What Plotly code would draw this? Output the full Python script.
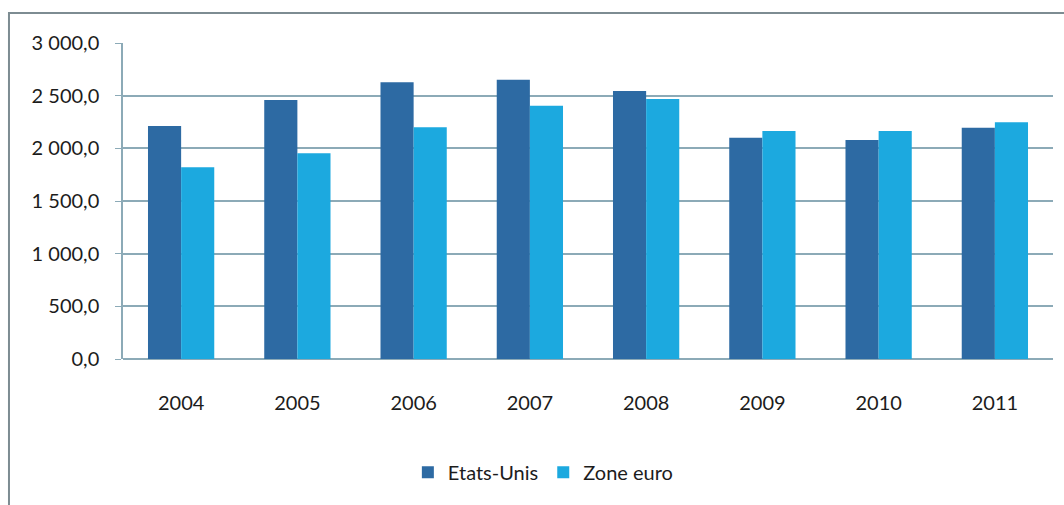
import plotly.graph_objects as go

years = ["2004", "2005", "2006", "2007", "2008", "2009", "2010", "2011"]
etats_unis = [2211, 2459, 2627, 2652, 2545, 2100, 2079, 2195]
zone_euro = [1820, 1953, 2199, 2405, 2469, 2164, 2164, 2248]
y_tickvals = [0, 500, 1000, 1500, 2000, 2500, 3000]
y_ticktext = ["0,0", "500,0", "1 000,0", "1 500,0", "2 000,0", "2 500,0", "3 000,0"]

FONT = "Lato, 'Open Sans', sans-serif"
TXT = "#1c1c1c"
GRID = "#8CAAB7"

fig = go.Figure()
fig.add_trace(go.Bar(name="Etats-Unis", x=years, y=etats_unis, marker_color="#2D6AA3",
                     marker_line_width=0))
fig.add_trace(go.Bar(name="Zone euro", x=years, y=zone_euro, marker_color="#1CA9DF",
                     marker_line_width=0))

fig.update_layout(
    width=1064, height=505,
    margin=dict(l=123, r=11, t=43, b=146, autoexpand=False),
    paper_bgcolor="white", plot_bgcolor="white",
    barmode="group", bargap=0.43, bargroupgap=0,
    font=dict(family=FONT, size=20, color=TXT),
    showlegend=True,
    legend=dict(orientation="h", x=0.452, xanchor="center", y=-0.358, yanchor="middle",
                font=dict(family=FONT, size=20, color=TXT),
                itemwidth=30, traceorder="normal"),
    xaxis=dict(showgrid=False, showline=False, ticks="", tickfont=dict(size=20),
               ticklabelstandoff=30),
    yaxis=dict(range=[0, 3000], tickvals=y_tickvals, ticktext=y_ticktext,
               showgrid=True, gridcolor=GRID, gridwidth=1.5,
               zeroline=True, zerolinecolor=GRID, zerolinewidth=1.5,
               showline=True, linecolor=GRID, linewidth=1.5,
               ticks="outside", ticklen=6, tickcolor=GRID,
               tickfont=dict(size=20), ticklabelstandoff=12),
)

# outer chart frame (top and left edges visible)
fig.add_shape(type="line", xref="paper", yref="paper", x0=-0.1226, x1=1.02, y0=1.095, y1=1.095,
              line=dict(color="#7D8C92", width=2))
fig.add_shape(type="line", xref="paper", yref="paper", x0=-0.1226, x1=-0.1226, y0=1.098, y1=-0.5,
              line=dict(color="#7D8C92", width=2))

fig.write_html("out.html", config={"displayModeBar": False},
               post_script="document.body.style.margin='0';")
